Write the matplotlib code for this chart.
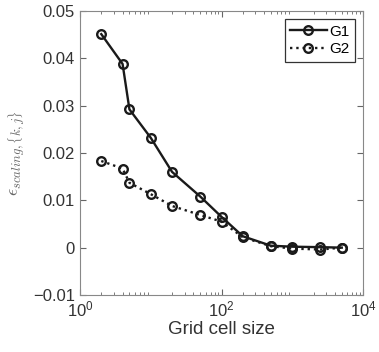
import numpy as np
import matplotlib
matplotlib.use('Agg')
import matplotlib.pyplot as plt

# grid cell sizes and scaling errors
cellSize = [2, 4, 5, 10, 20, 50, 100, 200, 500, 1000, 2500, 5000]
errG1 = [0.0451, 0.0388, 0.0292, 0.0232, 0.0160, 0.0108, 0.0065, 0.0024, 0.0004, 0.0002, 0.0001, 0.0]
errG2 = [0.0183, 0.0167, 0.0137, 0.0113, 0.0088, 0.0069, 0.0055, 0.0022, 0.0003, -0.0002, -0.0004, 0.0]
xTickLabels = [r'$\mathregular{10^0}$', r'$\mathregular{10^2}$', r'$\mathregular{10^4}$']
yTickLabels = ['\u22120.01', '0', '0.01', '0.02', '0.03', '0.04', '0.05']

plt.rcParams['font.family'] = ['Liberation Sans', 'DejaVu Sans']
plt.rcParams['mathtext.fontset'] = 'cm'

fig = plt.figure(figsize=(3.79, 3.52), dpi=100)
ax = fig.add_axes([0.211, 0.162, 0.747, 0.807])

lineCol = '#1a1a1a'
ax.plot(cellSize, errG1, '-', color=lineCol, lw=1.7, marker='o', ms=6.2,
        mfc='none', mec=lineCol, mew=1.7, label='G1')
ax.plot(cellSize, errG2, ':', color=lineCol, lw=1.7, marker='o', ms=6.2,
        mfc='none', mec=lineCol, mew=1.7, label='G2')

ax.set_xscale('log')
ax.set_xlim(1, 1e4)
ax.set_ylim(-0.01, 0.05)
ax.set_xticks([1, 1e2, 1e4])
ax.set_xticklabels(xTickLabels)
ax.set_yticks([-0.01, 0, 0.01, 0.02, 0.03, 0.04, 0.05])
ax.set_yticklabels(yTickLabels)

txtCol = '#333333'
ax.tick_params(direction='in', which='both', top=True, right=True,
               labelsize=12, colors='#666666', labelcolor=txtCol)
ax.tick_params(which='major', length=4)
ax.tick_params(which='minor', length=2)
for s in ax.spines.values():
    s.set_color('#888888')
    s.set_linewidth(0.8)

ax.set_xlabel('Grid cell size', fontsize=13.5, color=txtCol, labelpad=1)
ax.set_ylabel(r'$\epsilon_{scaling,\{k,j\}}$', fontsize=13, color='#666666', labelpad=4)

leg = ax.legend(loc='upper right', fontsize=11, frameon=True, fancybox=False,
                edgecolor='black', handlelength=2.4, borderaxespad=0.55,
                handletextpad=0.15, borderpad=0.35, labelspacing=0.25)
leg.get_frame().set_linewidth(0.9)

fig.savefig('out.png', dpi=100)
